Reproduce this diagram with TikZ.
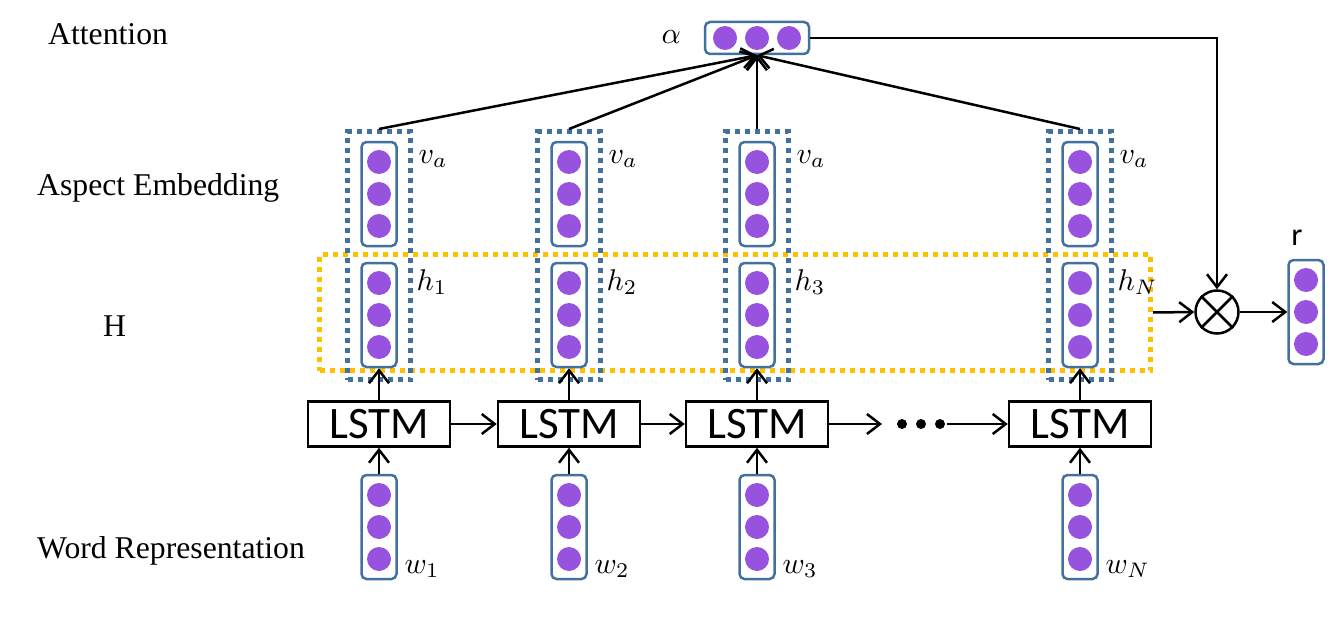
\documentclass[tikz,border=0pt]{standalone}
\usepackage{fontspec}
\setmainfont{Liberation Serif}
\newfontfamily\calfont{Carlito}
\usetikzlibrary{arrows.meta}
\definecolor{vblue}{RGB}{65,113,156}
\definecolor{vpurple}{RGB}{151,82,222}
\definecolor{vyellow}{RGB}{255,192,0}
\begin{document}
\begin{tikzpicture}[x=1pt,y=-1pt,
  vbox/.style={draw=vblue, line width=2.5pt, rounded corners=5pt, minimum width=35pt, minimum height=104pt, inner sep=0pt},
  abox/.style={draw=vblue, line width=2.5pt, rounded corners=5pt, minimum width=104pt, minimum height=32pt, inner sep=0pt},
  lstm/.style={draw, line width=2.5pt, minimum width=142pt, minimum height=45pt, inner sep=0pt, font=\calfont\fontsize{45}{48}\selectfont},
  arr/.style={line width=2.5pt, -{Straight Barb[length=13pt,width=20pt]}},
  bluedot/.style={draw=vblue, line width=5pt, dash pattern=on 5pt off 5pt, inner sep=0pt},
  yellowdot/.style={draw=vyellow, line width=5pt, dash pattern=on 5pt off 5pt, inner sep=0pt},
  lab/.style={anchor=base west, inner sep=0pt, font=\fontsize{31.7}{36}\selectfont},
  mlab/.style={anchor=base west, inner sep=0pt, font=\fontsize{10}{12}\selectfont, scale=3},
]
\useasboundingbox (0,0) rectangle (1339,618);

% left labels
\node[lab] (tAtt) at (48,45) {Attention};
\node[lab] (tAsp) at (37,195) {Aspect Embedding};
\node[lab] (tH) at (103,336) {H};
\node[lab] (tWord) at (37,558) {Word Representation};

% H box
\node[yellowdot, minimum width=831pt, minimum height=116pt] (Hbox) at (735,312.5) {};

% columns
\foreach \c/\i in {379/1,569/2,757/3,1080/N}{
  \node[bluedot, minimum width=63pt, minimum height=248pt] (a\i) at (\c,255.5) {};
  \node[vbox] (v\i) at (\c,194) {};
  \foreach \y in {162,194,226} \fill[vpurple] (\c,\y) circle[radius=12];
  \node[vbox] (h\i) at (\c,315) {};
  \foreach \y in {283,315,347} \fill[vpurple] (\c,\y) circle[radius=12];
  \node[vbox] (w\i) at (\c,527) {};
  \foreach \y in {495,527,559} \fill[vpurple] (\c,\y) circle[radius=12];
  \node[lstm] (l\i) at (\c,424) {LSTM};
  \node[mlab] (lv\i) at (\c+39,163) {$v_a$};
  \node[mlab] (lh\i) at (\c+37,290) {$h_\i$};
  \node[mlab] (lw\i) at (\c+25,573) {$w_\i$};
  \draw[arr] (w\i.north) -- (l\i.south);
  \draw[arr] (l\i.north) -- (h\i.south);
}

% attention vector
\node[abox] (alpha) at (757,38) {};
\foreach \x in {725,757,789} \fill[vpurple] (\x,38) circle[radius=12];
\node[mlab] (lalpha) at (661,44) {$\alpha$};
\foreach \i in {1,2,3,N} \draw[arr] (a\i.north) -- (alpha.south);

% LSTM chain
\draw[arr] (l1.east) -- (l2.west);
\draw[arr] (l2.east) -- (l3.west);
\coordinate (dA) at (882,424);
\coordinate (dB) at (947,424);
\draw[arr] (l3.east) -- (dA);
\foreach \x in {902,921,940} \fill (\x,424) circle[radius=5];
\draw[arr] (dB) -- (lN.west);

% output
\node[draw, circle, line width=2.5pt, minimum size=43pt, inner sep=0pt] (ot) at (1217,312) {};
\draw[line width=2.5pt] (ot.north west) -- (ot.south east) (ot.north east) -- (ot.south west);
\draw[arr] (alpha.east) -| (ot.north);
\draw[arr] (Hbox.east) -- (ot.west);
\node[vbox] (r) at (1306,312) {};
\foreach \y in {280,312,344} \fill[vpurple] (1306,\y) circle[radius=12];
\node[anchor=base, inner sep=0pt, font=\calfont\fontsize{32}{36}\selectfont] (lr) at (1297,245) {r};
\draw[arr] (ot.east) -- (r.west);
\end{tikzpicture}
\end{document}
